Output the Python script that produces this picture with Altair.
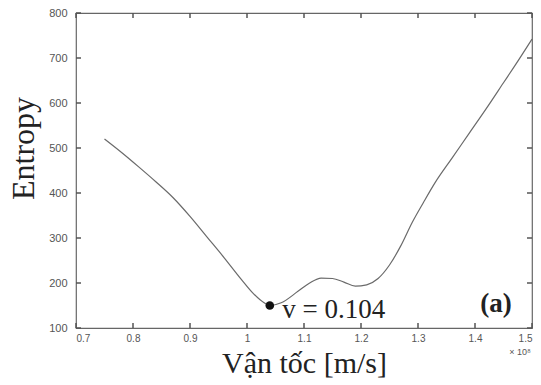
import altair as alt
import pandas as pd

# Curve values
vel = [0.75, 0.78, 0.81, 0.84, 0.87, 0.90, 0.93, 0.96, 0.99, 1.01, 1.03, 1.04,
       1.06, 1.09, 1.11, 1.13, 1.15, 1.17, 1.19, 1.21, 1.23, 1.25, 1.27, 1.29,
       1.31, 1.33, 1.36, 1.39, 1.42, 1.45, 1.47, 1.50]
entropy = [520, 490, 458, 425, 390, 348, 302, 256, 208, 178, 156, 150,
           156, 182, 200, 211, 210, 202, 193, 196, 210, 240, 283, 335,
           380, 423, 478, 533, 588, 645, 683, 742]

min_v = [1.04]
min_e = [150]

x_ticks = [0.7, 0.8, 0.9, 1.0, 1.1, 1.2, 1.3, 1.4, 1.5]
y_ticks = [100, 200, 300, 400, 500, 600, 700, 800]

ann_text = ["v = 0.104", "(a)", "× 10⁸"]
ann_x = [1.062, 1.437, 1.479]
ann_y = [140, 153, 47]

X_DOM = [0.7, 1.5]
Y_DOM = [100, 800]

W, H = 456, 315
TL = 5  # inward tick length in pixels
hx = (TL / 2) * (X_DOM[1] - X_DOM[0]) / W
hy = (TL / 2) * (Y_DOM[1] - Y_DOM[0]) / H

curve = pd.DataFrame({"v": vel, "e": entropy})
pt = pd.DataFrame({"v": min_v, "e": min_e})
ann = pd.DataFrame({"t": ann_text, "v": ann_x, "e": ann_y})
# inward tick marks: centre of each tick, bottom/top and left/right
xt = pd.DataFrame({"v": x_ticks * 2,
                   "e": [Y_DOM[0] + hy] * len(x_ticks) + [Y_DOM[1] - hy] * len(x_ticks)})
yt = pd.DataFrame({"e": y_ticks * 2,
                   "v": [X_DOM[0] + hx] * len(y_ticks) + [X_DOM[1] - hx] * len(y_ticks)})

xs = alt.Scale(domain=X_DOM, nice=False, zero=False)
ys = alt.Scale(domain=Y_DOM, nice=False, zero=False)

TICK = "#555"

line = alt.Chart(curve).mark_line(color="#6a6a6a", strokeWidth=1.2, interpolate="monotone").encode(
    x=alt.X("v:Q", scale=xs, title="Vận tốc [m/s]", axis=alt.Axis(
        values=x_ticks, format="~g", ticks=False, domain=False, grid=False,
        labelFont="Liberation Sans", labelFontSize=10, labelColor="#555", labelPadding=5,
        titleFont="Liberation Serif", titleFontSize=30,
        titleFontWeight="normal", titleColor="#222", titlePadding=5)),
    y=alt.Y("e:Q", scale=ys, title="Entropy", axis=alt.Axis(
        values=y_ticks, ticks=False, domain=False, grid=False,
        labelFont="Liberation Sans", labelFontSize=11, labelColor="#555", labelPadding=9,
        titleFont="Liberation Serif", titleFontSize=32,
        titleFontWeight="normal", titleColor="#222", titlePadding=8, titleY=135)),
)

tick_x = alt.Chart(xt).mark_tick(orient="vertical", size=TL, thickness=1.5, color=TICK, opacity=1).encode(
    x=alt.X("v:Q", scale=xs), y=alt.Y("e:Q", scale=ys))
tick_y = alt.Chart(yt).mark_tick(orient="horizontal", size=TL, thickness=1.5, color=TICK, opacity=1).encode(
    x=alt.X("v:Q", scale=xs), y=alt.Y("e:Q", scale=ys))

marker = alt.Chart(pt).mark_point(filled=True, color="#111", size=75, opacity=1).encode(
    x=alt.X("v:Q", scale=xs), y=alt.Y("e:Q", scale=ys))

text_v = alt.Chart(ann.iloc[[0]]).mark_text(
    font="Liberation Serif", fontSize=27, color="#222", align="left", baseline="middle"
).encode(x=alt.X("v:Q", scale=xs), y=alt.Y("e:Q", scale=ys), text="t:N")

text_a = alt.Chart(ann.iloc[[1]]).mark_text(
    font="Liberation Serif", fontSize=27, fontWeight="bold", color="#222",
    align="center", baseline="middle"
).encode(x=alt.X("v:Q", scale=xs), y=alt.Y("e:Q", scale=ys), text="t:N")

text_exp = alt.Chart(ann.iloc[[2]]).mark_text(
    font="Liberation Sans", fontSize=9, color="#555", align="center", baseline="middle"
).encode(x=alt.X("v:Q", scale=xs), y=alt.Y("e:Q", scale=ys), text="t:N")

chart = alt.layer(
    line, tick_x, tick_y, marker, text_v, text_a, text_exp
).properties(
    width=W, height=H,
    autosize=alt.AutoSizeParams(type="none"),
    padding={"left": 76, "top": 13, "right": 9, "bottom": 57},
).configure_view(stroke="#666", strokeWidth=1.2)

chart.save("out.html", embed_options={"renderer": "svg", "actions": False})
